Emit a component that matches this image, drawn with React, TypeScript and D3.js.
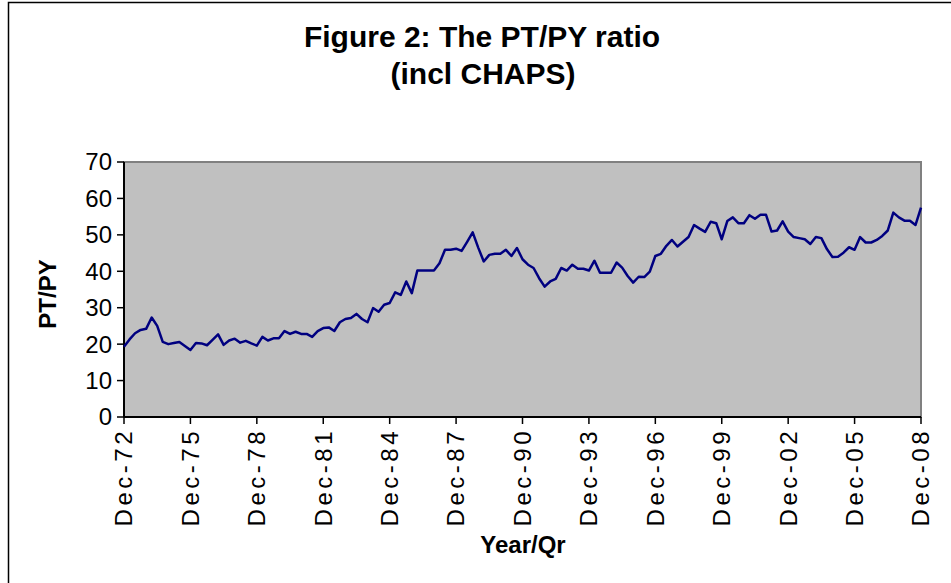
import React from 'react';
import * as d3 from 'd3';

// quarterly PT/PY ratio, Dec-72 .. Dec-08 (145 quarters)
const ratio: number[] = [
  19.3, 21.3, 23.0, 23.9, 24.2, 27.3, 25.0, 20.6, 20.0, 20.3,
  20.6, 19.5, 18.4, 20.3, 20.2, 19.7, 21.2, 22.7, 19.8, 21.0,
  21.5, 20.4, 20.9, 20.2, 19.6, 22.0, 21.0, 21.6, 21.6, 23.6,
  22.8, 23.4, 22.8, 22.8, 22.0, 23.6, 24.4, 24.6, 23.6, 26.0,
  26.9, 27.2, 28.3, 26.9, 26.0, 29.9, 28.9, 30.8, 31.3, 34.2,
  33.5, 37.2, 34.0, 40.2, 40.2, 40.2, 40.2, 42.2, 45.9, 45.9,
  46.2, 45.6, 48.1, 50.7, 46.5, 42.7, 44.5, 44.8, 44.8, 45.9,
  44.2, 46.4, 43.3, 41.8, 40.9, 38.1, 35.8, 37.2, 37.9, 40.9,
  40.2, 41.8, 40.7, 40.7, 40.2, 42.9, 39.6, 39.6, 39.6, 42.4,
  41.0, 38.7, 36.9, 38.5, 38.4, 39.9, 44.2, 44.8, 47.0, 48.6,
  46.8, 48.1, 49.4, 52.7, 51.7, 50.8, 53.6, 53.2, 48.8, 53.8,
  54.8, 53.2, 53.2, 55.4, 54.4, 55.5, 55.5, 50.9, 51.2, 53.7,
  50.9, 49.4, 49.1, 48.8, 47.5, 49.4, 49.1, 46.1, 43.9, 44.0,
  45.1, 46.6, 45.9, 49.4, 47.9, 47.9, 48.6, 49.7, 51.2, 56.1,
  54.8, 53.9, 53.9, 52.7, 57.5,
];

// labelled every 12 quarters
const tickLabels = [
  'Dec-72', 'Dec-75', 'Dec-78', 'Dec-81', 'Dec-84', 'Dec-87', 'Dec-90',
  'Dec-93', 'Dec-96', 'Dec-99', 'Dec-02', 'Dec-05', 'Dec-08',
];
const yTicks = [0, 10, 20, 30, 40, 50, 60, 70];

const W = 951;
const H = 583;
const plot = { left: 124, right: 921, top: 162, bottom: 417 };
const font = '"Liberation Sans", Arial, sans-serif';

export default function App() {
  const x = d3.scaleLinear().domain([0, ratio.length - 1]).range([plot.left, plot.right]);
  const y = d3.scaleLinear().domain([0, 70]).range([plot.bottom, plot.top]);

  const line = d3.line<number>()
    .x((_, i) => x(i))
    .y(d => y(d));

  return (
    <svg width={W} height={H} style={{ position: 'absolute', left: 0, top: 0, background: '#fff' }}>
      {/* outer chart frame */}
      <path d={`M8.5,${H} V2.5 H${W}`} fill="none" stroke="#000" strokeWidth={1.5} />

      <text x={482} y={47} textAnchor="middle" fontFamily={font} fontWeight="bold" fontSize={30}>
        Figure 2: The PT/PY ratio
      </text>
      <text x={483} y={84} textAnchor="middle" fontFamily={font} fontWeight="bold" fontSize={30}>
        (incl CHAPS)
      </text>

      {/* plot area */}
      <rect x={plot.left} y={plot.top} width={plot.right - plot.left} height={plot.bottom - plot.top}
        fill="#C0C0C0" stroke="#808080" strokeWidth={2} />

      {/* y axis */}
      <line x1={plot.left} x2={plot.left} y1={plot.top} y2={plot.bottom} stroke="#000" strokeWidth={2} />
      {yTicks.map(t => (
        <g key={t}>
          <line x1={plot.left - 7} x2={plot.left} y1={y(t)} y2={y(t)} stroke="#000" strokeWidth={1.5} />
          <text x={112} y={y(t)} dy="0.35em" textAnchor="end" fontFamily={font} fontSize={24}>{t}</text>
        </g>
      ))}

      {/* x axis */}
      <line x1={plot.left} x2={plot.right} y1={plot.bottom} y2={plot.bottom} stroke="#000" strokeWidth={2} />
      {tickLabels.map((lab, k) => {
        const xi = x(k * 12);
        return (
          <g key={lab}>
            <line x1={xi} x2={xi} y1={plot.bottom} y2={plot.bottom + 7} stroke="#000" strokeWidth={1.5} />
            <text transform={`translate(${xi},${plot.bottom + 11}) rotate(-90)`} dy="0.35em"
              textAnchor="end" fontFamily={font} fontSize={24} letterSpacing={3.5}>{lab}</text>
          </g>
        );
      })}

      <path d={line(ratio) || ''} fill="none" stroke="#000080" strokeWidth={2.5} strokeLinejoin="round" />

      <text transform="translate(48,294) rotate(-90)" dy="0.35em" textAnchor="middle"
        fontFamily={font} fontWeight="bold" fontSize={24}>PT/PY</text>
      <text x={523} y={553} textAnchor="middle" fontFamily={font} fontWeight="bold" fontSize={24}>Year/Qr</text>
    </svg>
  );
}
